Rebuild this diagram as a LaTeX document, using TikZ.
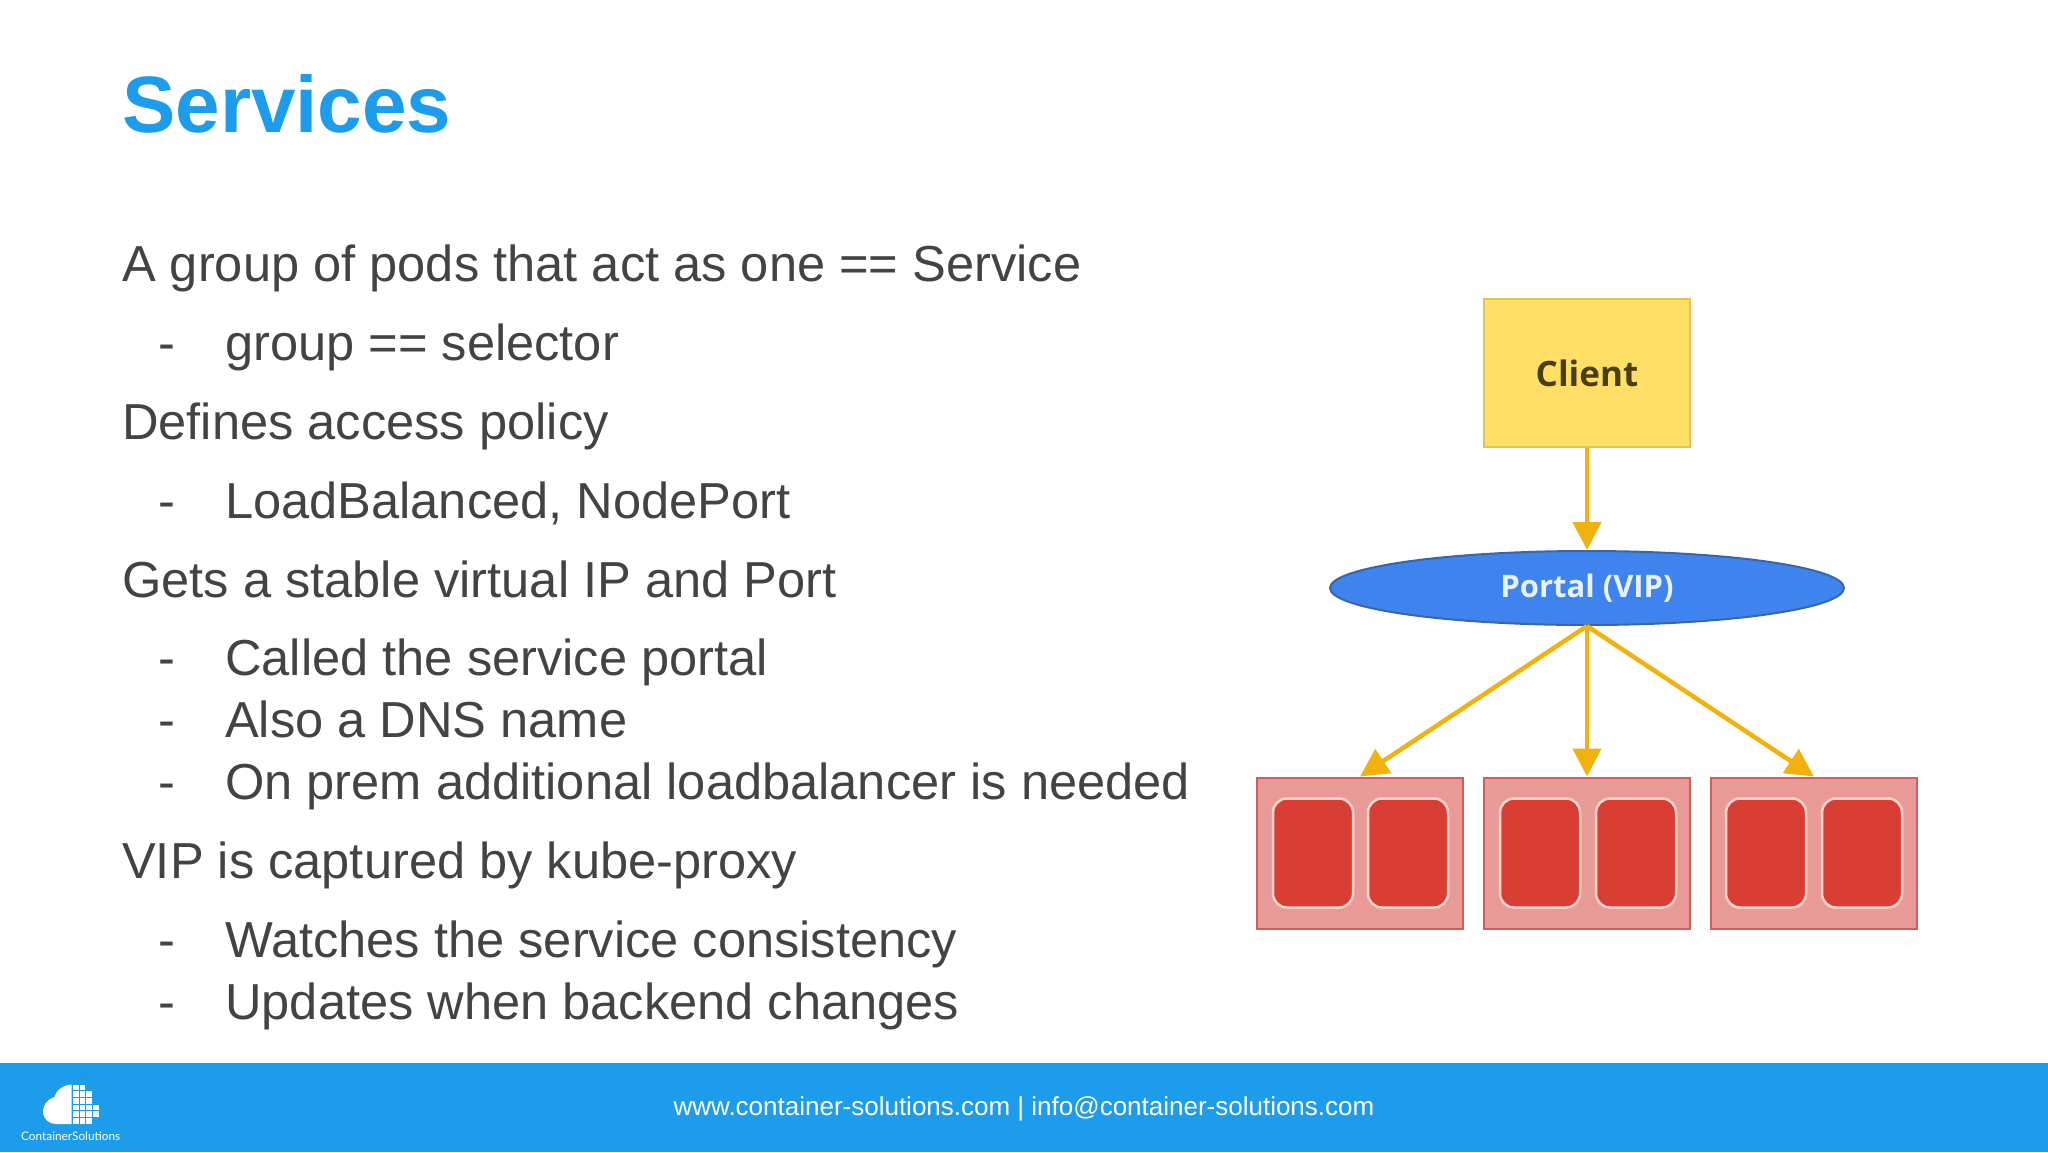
\documentclass[tikz,border=0pt]{standalone}
\usepackage{fontspec}
\setmainfont{Liberation Sans}
\newfontfamily\boxfont{Open Sans}
\newfontfamily\logofont{Lato}
\usetikzlibrary{arrows.meta,shapes.geometric,positioning}
\definecolor{csblue}{HTML}{1C9CEA}
\definecolor{bodygrey}{HTML}{434343}
\definecolor{arrowgold}{HTML}{F1B20E}
\definecolor{clientfill}{HTML}{FFDF66}
\definecolor{clientline}{HTML}{E3C354}
\definecolor{clienttxt}{HTML}{4A3F14}
\definecolor{vipfill}{HTML}{3F83EE}
\definecolor{vipline}{HTML}{3A66A8}
\definecolor{viptxt}{HTML}{E8F2FF}
\definecolor{groupfill}{HTML}{EA9A96}
\definecolor{groupline}{HTML}{CF5F5B}
\definecolor{podfill}{HTML}{D83E34}
\definecolor{podline}{HTML}{F8D3CD}
\tikzstyle{titletxt}=[anchor=base west,inner sep=0,text=csblue,font=\fontsize{80}{90}\selectfont\bfseries]
\tikzstyle{bodytxt}=[anchor=base west,inner sep=0,text=bodygrey,font=\fontsize{50.6}{58}\selectfont]
\tikzstyle{foottxt}=[anchor=base,inner sep=0,text=white,font=\fontsize{26}{30}\selectfont]
\tikzstyle{clientbox}=[draw=clientline,line width=2,fill=clientfill,minimum width=206,minimum height=148,inner sep=0,text=clienttxt,font=\boxfont\fontsize{35}{38}\selectfont\bfseries]
\tikzstyle{portal}=[ellipse,draw=vipline,line width=2,fill=vipfill,minimum width=514,minimum height=74,inner sep=0,text=viptxt,font=\boxfont\fontsize{31}{36}\selectfont\bfseries]
\tikzstyle{group}=[draw=groupline,line width=2,fill=groupfill,minimum width=206,minimum height=151,inner sep=0]
\tikzstyle{pod}=[draw=podline,line width=2.5,fill=podfill,rounded corners=14,minimum width=80,minimum height=109,inner sep=0]
\tikzstyle{flow}=[-{Triangle[length=28,width=28]},line width=4.5,arrowgold,draw]
\begin{document}
\begin{tikzpicture}[x=1pt,y=-1pt]
	\useasboundingbox (0,0) rectangle (2048,1152);

	\node[titletxt] (title) at (122,132) {Services};

	\node[bodytxt] (la) at (122,281) {A group of pods that act as one == Service};
	\node[bodytxt] (da) at (158,360) {-};
	\node[bodytxt] (sa) at (225,360) {group == selector};
	\node[bodytxt] (lb) at (122,439) {Defines access policy};
	\node[bodytxt] (db) at (158,518) {-};
	\node[bodytxt] (sb) at (225,518) {LoadBalanced, NodePort};
	\node[bodytxt] (lc) at (122,597) {Gets a stable virtual IP and Port};
	\node[bodytxt] (dc) at (158,675) {-};
	\node[bodytxt] (sc) at (225,675) {Called the service portal};
	\node[bodytxt] (dd) at (158,737) {-};
	\node[bodytxt] (sd) at (225,737) {Also a DNS name};
	\node[bodytxt] (de) at (158,799) {-};
	\node[bodytxt] (se) at (225,799) {On prem additional loadbalancer is needed};
	\node[bodytxt] (ld) at (122,878) {VIP is captured by kube-proxy};
	\node[bodytxt] (df) at (158,957) {-};
	\node[bodytxt] (sf) at (225,957) {Watches the service consistency};
	\node[bodytxt] (dg) at (158,1019) {-};
	\node[bodytxt] (sg) at (225,1019) {Updates when backend changes};

	\node[clientbox] (client) at (1587,373) {Client};
	\node[portal] (vip) at (1587,588) {Portal (VIP)};

	\node[group] (ga) at (1360,853) {};
	\node[group] (gb) at (1587,853) {};
	\node[group] (gc) at (1814,853) {};
	\node[pod] (pa) at (1313,853) {};
	\node[pod] (pb) at (1408,853) {};
	\node[pod] (pc) at (1540,853) {};
	\node[pod] (pd) at (1636,853) {};
	\node[pod] (pe) at (1766,853) {};
	\node[pod] (pf) at (1862,853) {};

	\path[flow] (client) -- (vip);
	\path[flow] (vip.south) -- (ga.north);
	\path[flow] (vip.south) -- (gb.north);
	\path[flow] (vip.south) -- (gc.north);

	\fill[csblue] (0,1063) rectangle (2048,1152);
	\node[foottxt] (foot) at (1024,1115) {www.container-solutions.com | info@container-solutions.com};

	% logo
	\fill[white] (71.5,1084.5) .. controls (62,1085) and (56,1091) .. (54.5,1097)
		.. controls (47,1099) and (43,1106) .. (43,1111)
		.. controls (43,1119) and (49,1124) .. (56,1124) -- (71.5,1124) -- cycle;
	\foreach \c/\first/\last in {0/0/5,1/0/5,2/1/5,3/3/4}
		\foreach \r in {\first,...,\last}
			\fill[white] (73+\c*6.67,1084.7+\r*6.67) rectangle ++(5.6,5.6);
	\node[anchor=base west,inner sep=0,text=white,font=\logofont\fontsize{11.8}{15}\selectfont] (logo) at (21,1140) {ContainerSolutions};
\end{tikzpicture}
\end{document}
